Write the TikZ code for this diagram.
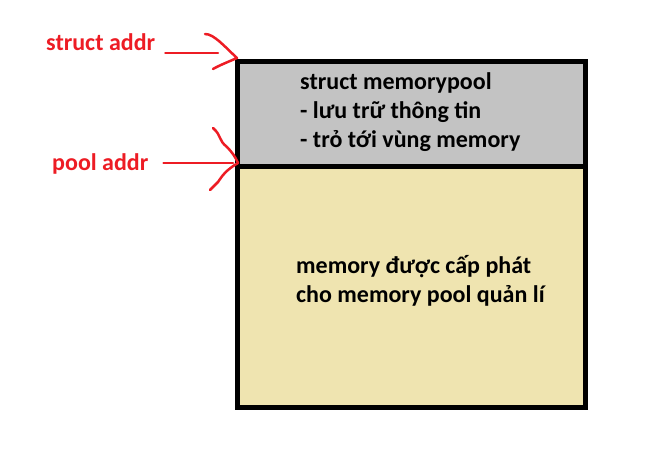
\documentclass[tikz,border=0pt]{standalone}
\usepackage{fontspec}
\setmainfont{Carlito}
\usepackage{xcolor}
\definecolor{red}{RGB}{237,28,36}
\definecolor{gray}{RGB}{195,195,195}
\definecolor{beige}{RGB}{239,228,176}

\begin{document}
\begin{tikzpicture}[x=1pt, y=-1pt, font=\bfseries\fontsize{24}{29}\selectfont,
  box/.style={draw, line width=5pt, minimum width=348pt, inner sep=0pt},
  redline/.style={red, line width=2.5pt, line cap=round, line join=round}]
\useasboundingbox (0,0) rectangle (660,452);
%		\draw[help lines] (0,0) grid (660,452);
\node[box, fill= gray, minimum height=105pt] (structbox) at (411,113.5) {};
\node[box, fill= beige, minimum height=241pt] (poolbox) at (411,286.5) {};
\node[anchor=base west, inner sep=0pt, align=left] (structtext) at (300,147) {struct memorypool\\- lưu trữ thông tin\\- trỏ tới vùng memory};
\node[anchor=base west, inner sep=0pt, align=left] (pooltext) at (296,302) {memory được cấp phát\\cho memory pool quản lí};
\node[anchor=base west, inner sep=0pt, red] (saddr) at (46,51) {struct addr};
\node[anchor=base west, inner sep=0pt, red] (paddr) at (52,170) {pool addr};
\coordinate (stip) at (237,58);
\coordinate (send) at (218,53);
\coordinate (ptip) at (238,163);
\coordinate (pend) at (233,163);
\draw[redline] ([xshift=10pt, yshift=-2pt]saddr.base east) -- (send);
\draw[redline] (205,34) .. controls (214,34) and (224,46) .. (stip) .. controls (228,62) and (220,65) .. (213,69);
\draw[redline] ([xshift=15pt, yshift=7pt]paddr.base east) -- (pend);
\draw[redline] (213,128) .. controls (222,136) and (218,140) .. (227,147) .. controls (232,152) and (236,158) .. (ptip) .. controls (226,170) and (222,176) .. (218,182) -- (210,190);
\end{tikzpicture}
\end{document}
